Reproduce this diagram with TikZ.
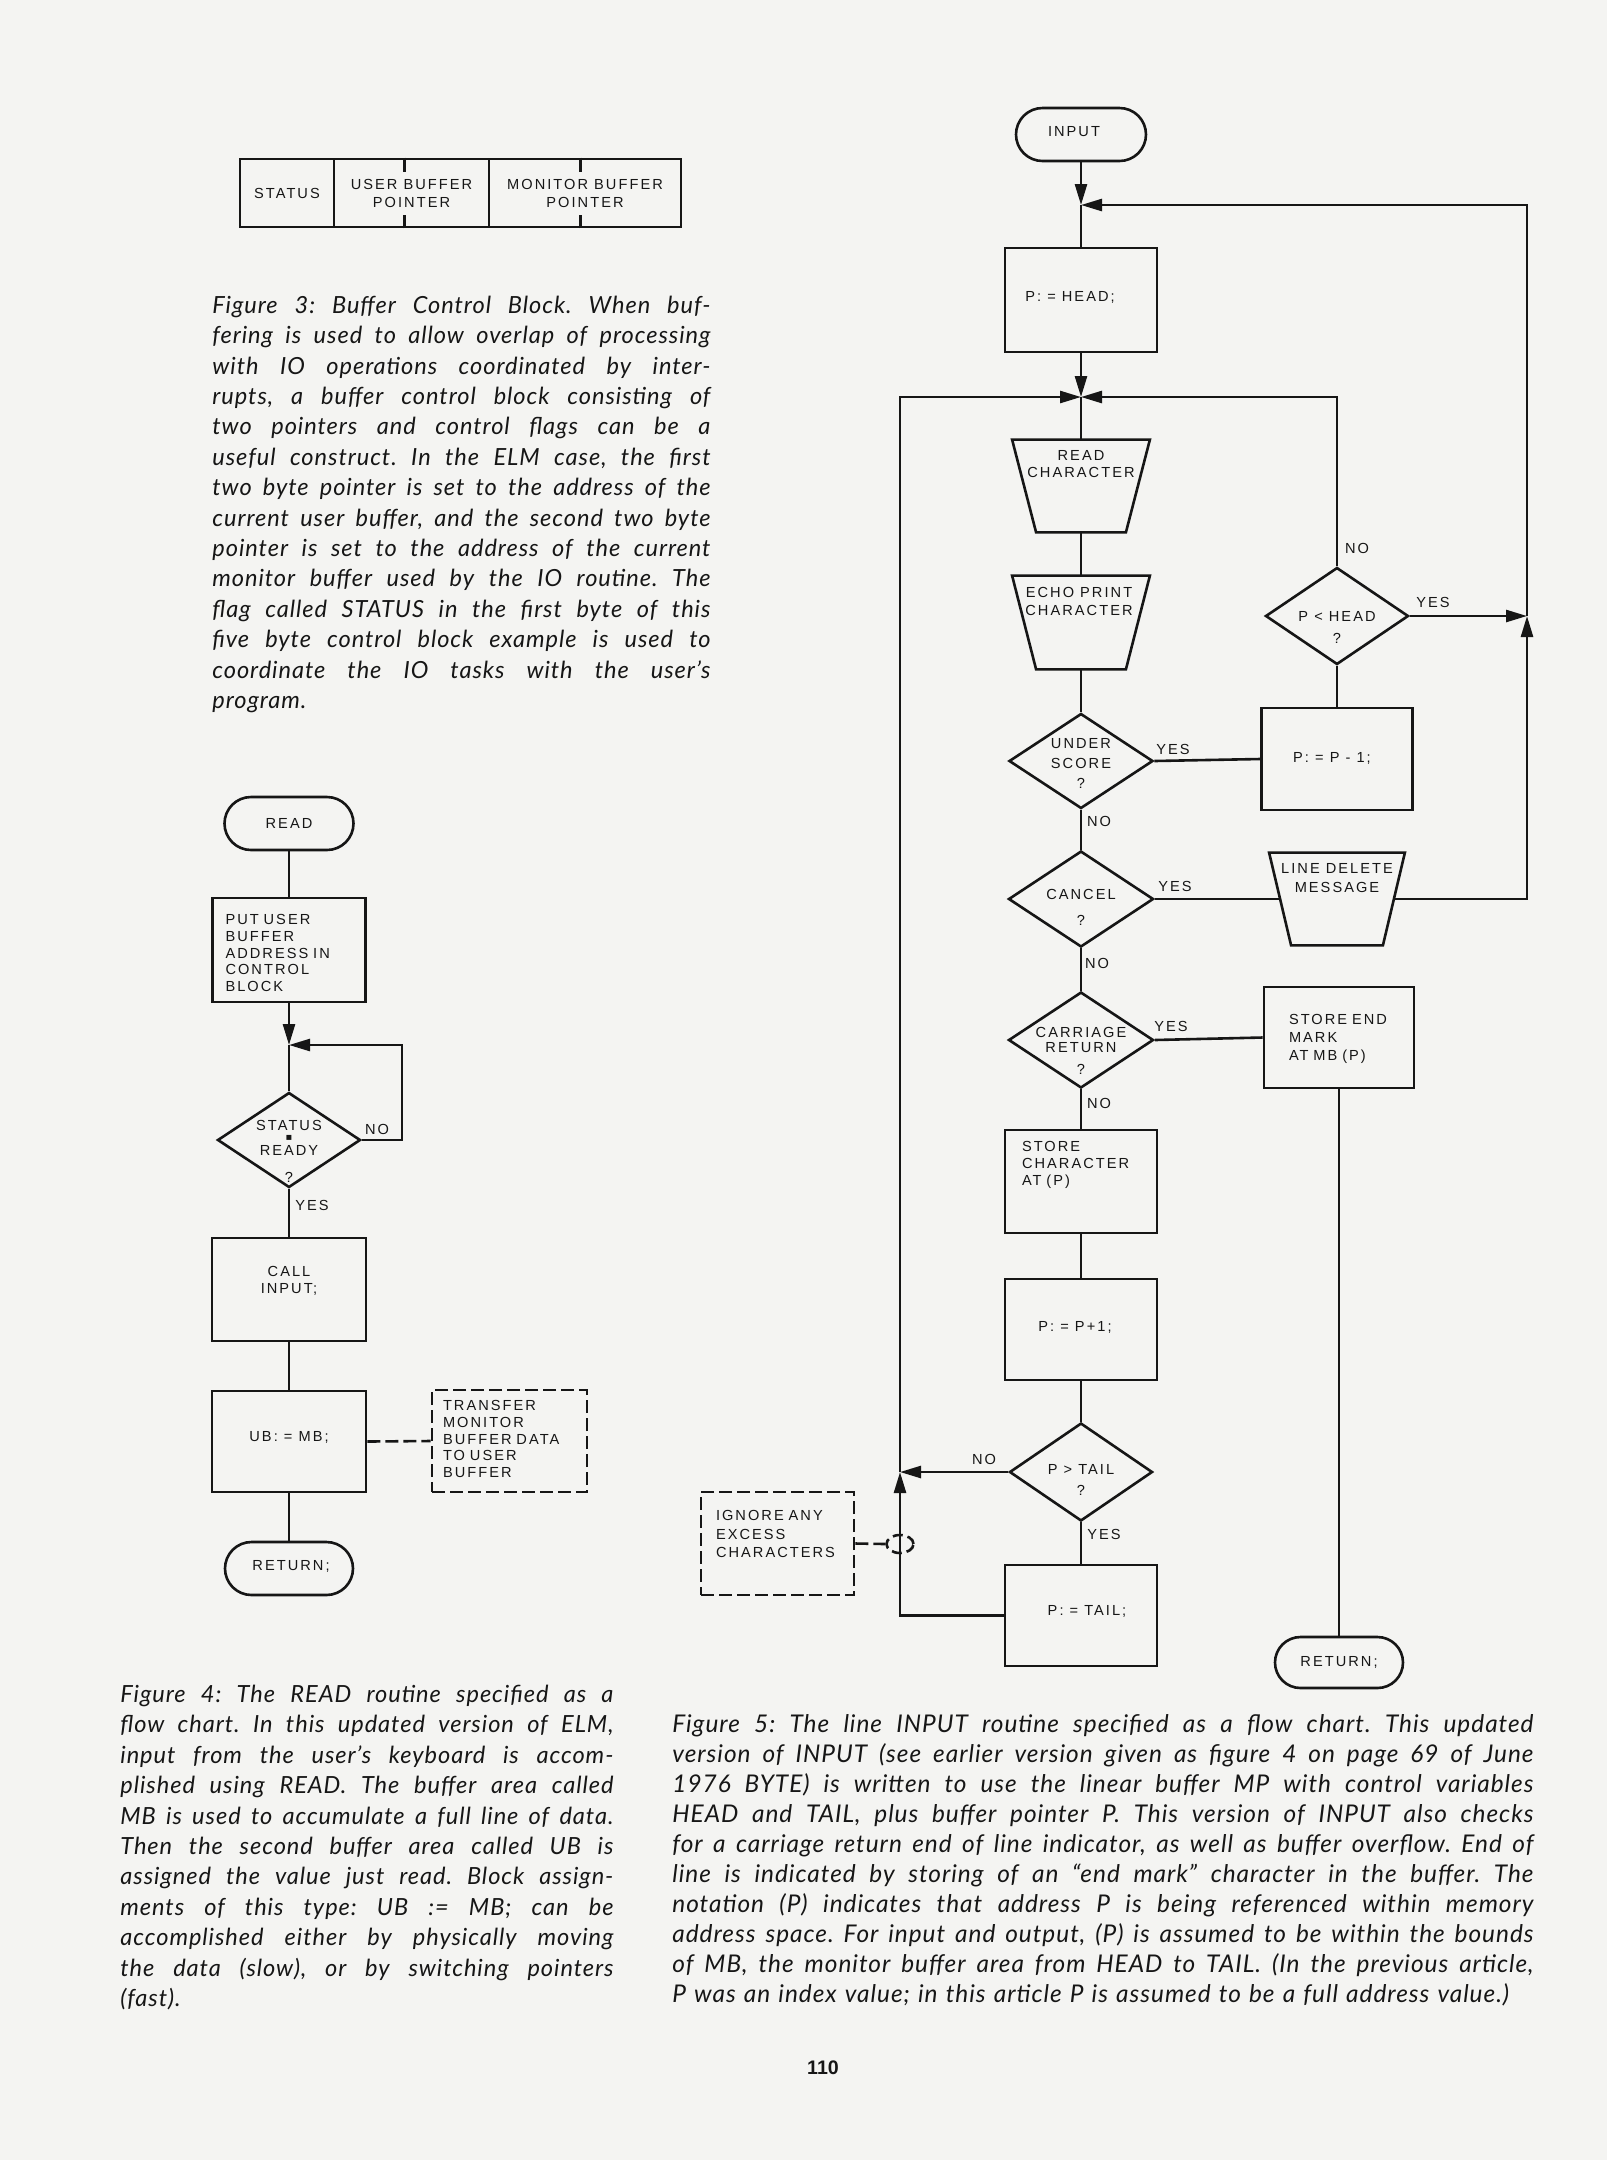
\documentclass[tikz,border=0pt]{standalone}
\usepackage{fontspec}
\setmainfont{Liberation Sans}
\newfontfamily\lblfont[LetterSpace=14]{Liberation Sans}
\newfontfamily\capfont[LetterSpace=4]{Lato}
\newfontfamily\pgnumfont{Liberation Sans}
\newfontfamily\symfont{DejaVu Sans}
\usetikzlibrary{shapes.geometric,shapes.misc,arrows.meta,calc}
\definecolor{paper}{RGB}{244,244,242}
\definecolor{ink}{RGB}{22,22,22}
\newlength\capw
\newcommand\jl[1]{\noindent\hbox to \capw{\spaceskip=0.22em plus 1fil minus 0.05em\xspaceskip=\spaceskip\relax\strut #1}\par}
\newcommand\lastl[1]{\noindent\strut #1\par}
\begin{document}
\begin{tikzpicture}[x=0.5pt,y=-0.5pt,
  ln/.style={draw=ink,line width=1.3pt},
  arr/.style={ln,-{Triangle[length=10.5pt,width=6pt]}},
  dsh/.style={ln,dash pattern=on 6.5pt off 2.5pt},
  box/.style={ln,rectangle,inner sep=0pt},
  dbox/.style={box,dash pattern=on 6.5pt off 2.5pt},
  term/.style={ln,rounded rectangle,inner sep=0pt},
  dia/.style={ln,diamond,inner sep=0pt},
  ghost/.style={rectangle,inner sep=0pt},
  lbl/.style={font=\lblfont\fontsize{7.3}{8.35}\selectfont,text=ink,inner sep=0pt,align=center},
  capt/.style={font=\capfont\itshape\fontsize{11.8}{15.2}\selectfont\frenchspacing,text=ink,inner sep=0pt,anchor=north west}]
\fill[paper] (0,0) rectangle (1607,2160);
\useasboundingbox (0,0) rectangle (1607,2160);

% ---------- Figure 3: buffer control block ----------
\node[box,lbl,minimum width=47pt,minimum height=34pt] (st) at (287,193) {STATUS};
\node[box,lbl,minimum width=77.5pt,minimum height=34pt,font=\lblfont\fontsize{7.3}{9}\selectfont] (ubp) at (411.5,193) {USER BUFFER\\POINTER};
\node[box,lbl,minimum width=96pt,minimum height=34pt,font=\lblfont\fontsize{7.3}{9}\selectfont] (mbp) at (585,193) {MONITOR BUFFER\\POINTER};
\draw[ln] ($(ubp.north west)+(72,0)$) -- ++(0,14);
\draw[ln] ($(ubp.south west)+(72,0)$) -- ++(0,-13);
\draw[ln] ($(mbp.north west)+(93,0)$) -- ++(0,14);
\draw[ln] ($(mbp.south west)+(93,0)$) -- ++(0,-13);

\node[capt,text width=249pt] (cap3) at (212,291.7) {\setlength{\capw}{249pt}%
\jl{Figure 3: Buffer Control Block. When buf-}
\jl{fering is used to allow overlap of processing}
\jl{with IO operations coordinated by inter-}
\jl{rupts, a buffer control block consisting of}
\jl{two pointers and control flags can be a}
\jl{useful construct. In the ELM case, the first}
\jl{two byte pointer is set to the address of the}
\jl{current user buffer, and the second two byte}
\jl{pointer is set to the address of the current}
\jl{monitor buffer used by the IO routine. The}
\jl{flag called STATUS in the first byte of this}
\jl{five byte control block example is used to}
\jl{coordinate the IO tasks with the user’s}
\lastl{program.}};

% ---------- Figure 4: READ flow chart ----------
\node[term,minimum width=64.5pt,minimum height=26.5pt] (read) at (289,823.5) {};
\node[box,minimum width=76.5pt,minimum height=52pt] (put) at (289,950) {};
\coordinate (j1) at (289,1045);
\node[dia,minimum width=71.5pt,minimum height=47.5pt] (status) at (289,1140) {};
\node[box,minimum width=77pt,minimum height=51.5pt] (call) at (289,1289.5) {};
\node[box,minimum width=77pt,minimum height=50.5pt] (ub) at (289,1441.5) {};
\node[dbox,minimum width=77.5pt,minimum height=51pt] (transfer) at (509.5,1441) {};
\node[term,minimum width=64pt,minimum height=26.5pt] (ret) at (289,1568.5) {};
\coordinate (sr) at (402,1140);
\coordinate (st2) at (402,1045);

\node[lbl] (readt) at (289,823) {READ};
\node[lbl,align=left,text width=63.5pt] (putt) at (289,953) {PUT USER\\BUFFER\\ADDRESS IN\\CONTROL\\BLOCK};
\node[lbl] (stt) at (289,1137.5) {STATUS\\[4.15pt]READY};
\node[lbl,font=\symfont\fontsize{5}{5}\selectfont] (sts) at (289,1138) {▪};
\node[lbl] (stq) at (289,1177) {?};
\node[lbl] (callt) at (289,1281) {CALL\\INPUT;};
\node[lbl] (ubt) at (289,1437) {UB: = MB;};
\node[lbl,align=left,text width=66.5pt] (trt) at (509.5,1439) {TRANSFER\\MONITOR\\BUFFER DATA\\TO USER\\BUFFER};
\node[lbl] (rett) at (291,1566) {RETURN;};
\node[lbl] (lno) at (377,1129) {NO};
\node[lbl] (lyes) at (312,1205) {YES};

\draw[ln] (read.south) -- (put.north);
\draw[arr] (put.south) -- (j1);
\draw[ln] (j1) -- (status.north);
\draw[arr] (status.east) -- (sr) -- (st2) -- (j1);
\draw[ln] (status.south) -- (call.north);
\draw[ln] (call.south) -- (ub.north);
\draw[dsh] (ub.east) -- (transfer.west);
\draw[ln] (ub.south) -- (ret.north);

\node[capt,text width=246.5pt] (cap4) at (120,1680.7) {\setlength{\capw}{246.5pt}%
\jl{Figure 4: The READ routine specified as a}
\jl{flow chart. In this updated version of ELM,}
\jl{input from the user’s keyboard is accom-}
\jl{plished using READ. The buffer area called}
\jl{MB is used to accumulate a full line of data.}
\jl{Then the second buffer area called UB is}
\jl{assigned the value just read. Block assign-}
\jl{ments of this type: UB := MB; can be}
\jl{accomplished either by physically moving}
\jl{the data (slow), or by switching pointers}
\lastl{(fast).}};

% ---------- Figure 5: INPUT flow chart ----------
\node[term,minimum width=65pt,minimum height=26.5pt] (inp) at (1081,134.5) {};
\coordinate (j2) at (1081,205);
\node[box,minimum width=76pt,minimum height=52pt] (head) at (1081,300) {};
\coordinate (j3) at (1081,397);
\node[ghost,minimum width=68.5pt,minimum height=46pt] (rc) at (1081,486) {};
\node[ghost,minimum width=68.5pt,minimum height=46.5pt] (ep) at (1081,622.5) {};
\node[dia,minimum width=72pt,minimum height=47.5pt] (us) at (1081,761) {};
\node[box,minimum width=75.5pt,minimum height=51pt] (pm) at (1337,759) {};
\node[dia,minimum width=71.5pt,minimum height=48.5pt] (ph) at (1337,616) {};
\node[dia,minimum width=72.5pt,minimum height=48pt] (cn) at (1081,899) {};
\node[ghost,minimum width=67.5pt,minimum height=46pt] (ld) at (1337,899) {};
\node[dia,minimum width=72.5pt,minimum height=48pt] (cr) at (1081,1040) {};
\node[box,minimum width=75pt,minimum height=50.5pt] (se) at (1339,1037.5) {};
\node[box,minimum width=76pt,minimum height=51.5pt] (sc) at (1081,1181.5) {};
\node[box,minimum width=76pt,minimum height=50.5pt] (pp) at (1081,1329.5) {};
\node[dia,minimum width=71.5pt,minimum height=49pt] (pt) at (1081,1472) {};
\node[box,minimum width=76pt,minimum height=50.5pt] (ptl) at (1081,1615.5) {};
\node[dbox,minimum width=76.5pt,minimum height=51.5pt] (ig) at (777.5,1543.5) {};
\node[term,minimum width=64pt,minimum height=25.5pt] (ret2) at (1339,1662.5) {};
\node[ln,ellipse,dash pattern=on 5pt off 2.5pt,minimum width=13.5pt,minimum height=9pt,inner sep=0pt] (ell) at (900,1544) {};

% trapezia
\draw[ln] (rc.north west) -- (rc.north east) -- ($(rc.south east)+(-24,0)$) -- ($(rc.south west)+(24,0)$) -- cycle;
\draw[ln] (ep.north west) -- (ep.north east) -- ($(ep.south east)+(-24,0)$) -- ($(ep.south west)+(24,0)$) -- cycle;
\draw[ln] (ld.north west) -- (ld.north east) -- ($(ld.south east)+(-22,0)$) -- ($(ld.south west)+(22,0)$) -- cycle;
\coordinate (ldl) at ($(ld.west)+(11,0)$);
\coordinate (ldr) at ($(ld.east)+(-11,0)$);

% loop coordinates
\coordinate (rj) at (1527,616);
\coordinate (rb) at (1527,899);
\coordinate (rt) at (1527,205);
\coordinate (phn) at (1337,397);
\coordinate (lj) at (900,1472);
\coordinate (lb) at (900,1615.5);
\coordinate (lt) at (900,397);

% texts
\node[lbl] (inpt) at (1074,132) {INPUT};
\node[lbl] (headt) at (1070,297) {P: = HEAD;};
\node[lbl] (rct) at (1081,464) {READ\\CHARACTER};
\node[lbl,font=\lblfont\fontsize{7.3}{9}\selectfont] (ept) at (1079,601) {ECHO PRINT\\CHARACTER};
\node[lbl,font=\lblfont\fontsize{7.3}{10}\selectfont] (ust) at (1081,763) {UNDER\\SCORE\\?};
\node[lbl] (pmt) at (1332,758) {P: = P - 1;};
\node[lbl,font=\lblfont\fontsize{7.3}{11}\selectfont] (pht) at (1337,627) {P < HEAD\\?};
\node[lbl,font=\lblfont\fontsize{7.3}{13}\selectfont] (cnt) at (1081,907) {CANCEL\\?};
\node[lbl,font=\lblfont\fontsize{7.3}{9.5}\selectfont] (ldt) at (1337,878.5) {LINE DELETE\\MESSAGE};
\node[lbl,font=\lblfont\fontsize{7.3}{7.6}\selectfont] (crt) at (1081,1050.5) {CARRIAGE\\RETURN\\[3.4pt]?};
\node[lbl,align=left,text width=50pt,font=\lblfont\fontsize{7.3}{9}\selectfont] (set) at (1339,1039) {STORE END\\MARK\\AT MB (P)};
\node[lbl,align=left,text width=59pt,font=\lblfont\fontsize{7.3}{8.5}\selectfont] (sct) at (1081,1165) {STORE\\CHARACTER\\AT (P)};
\node[lbl] (ppt) at (1075,1327) {P: = P+1;};
\node[lbl,font=\lblfont\fontsize{7.3}{10.5}\selectfont] (ptt) at (1081,1480) {P > TAIL\\?};
\node[lbl] (ptlt) at (1087,1611) {P: = TAIL;};
\node[lbl,align=left,text width=61.5pt,font=\lblfont\fontsize{7.3}{9.25}\selectfont] (igt) at (777.5,1534) {IGNORE ANY\\EXCESS\\CHARACTERS};
\node[lbl] (ret2t) at (1339,1662) {RETURN;};

\node[lbl] (usy) at (1173,749) {YES};
\node[lbl] (phno) at (1357,548) {NO};
\node[lbl] (phy) at (1433,602) {YES};
\node[lbl] (usno) at (1099,821) {NO};
\node[lbl] (cny) at (1175,886) {YES};
\node[lbl] (cnno) at (1097,963) {NO};
\node[lbl] (cry) at (1171,1026) {YES};
\node[lbl] (crno) at (1099,1103) {NO};
\node[lbl] (ptno) at (984,1459) {NO};
\node[lbl] (pty) at (1104,1534) {YES};

% connectors
\draw[arr] (inp.south) -- (j2);
\draw[ln] (j2) -- (head.north);
\draw[arr] (head.south) -- (j3);
\draw[ln] (j3) -- (rc.north);
\draw[ln] (rc.south) -- (ep.north);
\draw[ln] (ep.south) -- (us.north);
\draw[ln] (us.east) -- (pm.west);
\draw[ln] (pm.north) -- (ph.south);
\draw[arr] (ph.north) -- (phn) -- (j3);
\draw[arr] (ph.east) -- (rj);
\draw[ln] (us.south) -- (cn.north);
\draw[ln] (cn.east) -- (ldl);
\draw[arr] (ldr) -- (rb) -- (rj);
\draw[arr] (rj) -- (rt) -- (j2);
\draw[ln] (cn.south) -- (cr.north);
\draw[ln] (cr.east) -- (se.west);
\draw[ln] (se.south) -- (ret2.north);
\draw[ln] (cr.south) -- (sc.north);
\draw[ln] (sc.south) -- (pp.north);
\draw[ln] (pp.south) -- (pt.north);
\draw[ln] (pt.south) -- (ptl.north);
\draw[arr] (pt.west) -- (lj);
\draw[arr] (ptl.west) -- (lb) -- (lj);
\draw[arr] (lj) -- (lt) -- (j3);
\draw[dsh] (ig.east) -- (ell.west);

\node[capt,text width=430.5pt,font=\capfont\itshape\fontsize{12.2}{15}\selectfont\frenchspacing] (cap5) at (672,1711) {\setlength{\capw}{430.5pt}%
\jl{Figure 5: The line INPUT routine specified as a flow chart. This updated}
\jl{version of INPUT (see earlier version given as figure 4 on page 69 of June}
\jl{1976 BYTE) is written to use the linear buffer MP with control variables}
\jl{HEAD and TAIL, plus buffer pointer P. This version of INPUT also checks}
\jl{for a carriage return end of line indicator, as well as buffer overflow. End of}
\jl{line is indicated by storing of an “end mark” character in the buffer. The}
\jl{notation (P) indicates that address P is being referenced within memory}
\jl{address space. For input and output, (P) is assumed to be within the bounds}
\jl{of MB, the monitor buffer area from HEAD to TAIL. (In the previous article,}
\lastl{P was an index value; in this article P is assumed to be a full address value.)}};

\node[font=\pgnumfont\bfseries\fontsize{9.8}{10}\selectfont,text=ink,inner sep=0pt] (pg) at (823,2068) {110};
\end{tikzpicture}
\end{document}
